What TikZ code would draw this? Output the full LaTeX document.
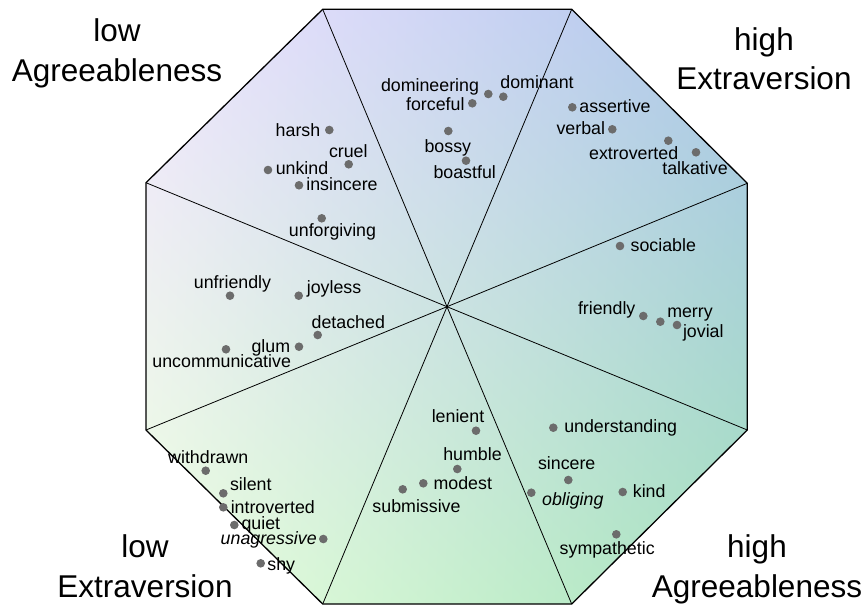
\documentclass[tikz,border=0pt]{standalone}
\usepackage{fontspec}
\setmainfont{Liberation Sans}

% Bilinear colour field over the octagon: the inner 25bp..75bp square
% of the shading is stretched over the path's bounding box.
\pgfdeclarefunctionalshading{octfill}{\pgfpointorigin}{\pgfpoint{100bp}{100bp}}{}{
  25 sub 50 div exch 25 sub 50 div exch
  2 copy mul
  2 index -0.274 mul 2 index 0.016 mul add 1 index 0.008 mul add 0.925 add
  3 index -0.114 mul 3 index -0.106 mul add 2 index -0.004 mul add 1.0 add
  4 index -0.133 mul 4 index 0.122 mul add 3 index 0.051 mul add 0.878 add
  6 3 roll pop pop pop
}

\definecolor{dotgray}{RGB}{108,108,108}

\tikzset{
  dotmark/.style={circle, fill=dotgray, inner sep=0pt, minimum size=8.6pt},
  word/.style={inner sep=0pt, text height=13pt, text depth=0pt,
               font=\fontsize{17.8}{20}\selectfont},
  corner/.style={inner sep=0pt, anchor=base, font=\fontsize{31.5}{38}\selectfont},
  rim/.style={line width=1.3pt, line join=miter},
  spoke/.style={line width=0.8pt}
}

\begin{document}
\begin{tikzpicture}[x=1pt, y=-1pt]
\useasboundingbox (0,0) rectangle (864,607);

% octagon corners and centre
\coordinate (A) at (322.7,9.3);
\coordinate (B) at (571.7,9.3);
\coordinate (C) at (747.3,183.3);
\coordinate (D) at (747.3,430);
\coordinate (E) at (571.7,604);
\coordinate (F) at (322.7,604);
\coordinate (G) at (146,430);
\coordinate (H) at (146,182.7);
\coordinate (O) at (447,306.7);

% fill
\shade[shading=octfill] (A) -- (B) -- (C) -- (D) -- (E) -- (F) -- (G) -- (H) -- cycle;

% spokes
\foreach \v in {A,B,C,D,E,F,G,H}
  \draw[spoke] (O) -- (\v);

% outline
\draw[rim] (A) -- (B) -- (C) -- (D) -- (E) -- (F) -- (G) -- (H) -- cycle;

% corner labels
\node[corner] (lowA1) at (117,42) {low};
\node[corner] (lowA2) at (117,82) {Agreeableness};
\node[corner] (hiE1) at (764,50.5) {high};
\node[corner] (hiE2) at (764,90) {Extraversion};
\node[corner] (lowE1) at (145,557) {low};
\node[corner] (lowE2) at (145,597) {Extraversion};
\node[corner] (hiA1) at (757,557) {high};
\node[corner] (hiA2) at (757,597) {Agreeableness};

% upper-left sector
\node[dotmark] (dharsh) at (329.3,130) {};
\node[word] (tharsh) at (298,129.7) {harsh};
\node[dotmark] (dcruel) at (348.7,164.3) {};
\node[word] (tcruel) at (348.3,150.8) {cruel};
\node[dotmark] (dunkind) at (268,170) {};
\node[word] (tunkind) at (302,168.3) {unkind};
\node[dotmark] (dinsincere) at (299,185.3) {};
\node[word] (tinsincere) at (342,183.8) {insincere};
\node[dotmark] (dunforgiving) at (321.7,218.3) {};
\node[word] (tunforgiving) at (332.5,230) {unforgiving};

% left upper sector
\node[dotmark] (dunfriendly) at (230,295.7) {};
\node[word] (tunfriendly) at (232.5,281.7) {unfriendly};
\node[dotmark] (djoyless) at (298.7,295.7) {};
\node[word] (tjoyless) at (334,286.8) {joyless};

% left lower sector
\node[dotmark] (ddetached) at (317.7,335) {};
\node[word] (tdetached) at (348.3,321.7) {detached};
\node[dotmark] (dglum) at (299,346.7) {};
\node[word] (tglum) at (270.8,345.5) {glum};
\node[dotmark] (duncomm) at (226,349.3) {};
\node[word] (tuncomm) at (221.7,361.3) {uncommunicative};

% lower-left sector
\node[dotmark] (dwithdrawn) at (205.7,470.7) {};
\node[word] (twithdrawn) at (208.3,456.8) {withdrawn};
\node[dotmark] (dsilent) at (223.3,493.3) {};
\node[word] (tsilent) at (250.8,484.2) {silent};
\node[dotmark] (dintro) at (223.3,507.3) {};
\node[word] (tintro) at (272.8,507) {introverted};
\node[dotmark] (dquiet) at (234.3,525) {};
\node[word] (tquiet) at (260.8,522.5) {quiet};
\node[dotmark] (dunagr) at (323.3,539) {};
\node[word] (tunagr) at (268.7,538.3) {\itshape unagressive};
\node[dotmark] (dshy) at (260.7,563.3) {};
\node[word] (tshy) at (281.2,563.5) {shy};

% lower sector
\node[dotmark] (dlenient) at (476,430.7) {};
\node[word] (tlenient) at (458,416.3) {lenient};
\node[dotmark] (dhumble) at (457.3,469) {};
\node[word] (thumble) at (472.5,453.8) {humble};
\node[dotmark] (dmodest) at (423.3,483.3) {};
\node[word] (tmodest) at (462.8,483) {modest};
\node[dotmark] (dsubm) at (402.7,489.3) {};
\node[word] (tsubm) at (416.5,505.8) {submissive};

% lower-right sector
\node[dotmark] (dunderst) at (553.3,427.7) {};
\node[word] (tunderst) at (620.7,426.3) {understanding};
\node[dotmark] (dsincere) at (568.3,480) {};
\node[word] (tsincere) at (566.7,462.5) {sincere};
\node[dotmark] (dobliging) at (531.3,492.7) {};
\node[word] (tobliging) at (572.8,498.8) {\itshape obliging};
\node[dotmark] (dkind) at (622.7,492) {};
\node[word] (tkind) at (649.2,491.2) {kind};
\node[dotmark] (dsymp) at (616.3,534.3) {};
\node[word] (tsymp) at (607.2,548.3) {sympathetic};

% right lower sector
\node[dotmark] (dfriendly) at (643.3,316) {};
\node[word] (tfriendly) at (606.7,308.3) {friendly};
\node[dotmark] (dmerry) at (660.3,321.7) {};
\node[word] (tmerry) at (690,311) {merry};
\node[dotmark] (djovial) at (677,325) {};
\node[word] (tjovial) at (703.3,331.2) {jovial};

% right upper sector
\node[dotmark] (dsociable) at (620,246) {};
\node[word] (tsociable) at (663.3,245) {sociable};

% upper-right sector
\node[dotmark] (dassertive) at (572.3,107.3) {};
\node[word] (tassertive) at (615,106.3) {assertive};
\node[dotmark] (dverbal) at (612.3,129.3) {};
\node[word] (tverbal) at (580.8,128.3) {verbal};
\node[dotmark] (dextro) at (668.3,140.7) {};
\node[word] (textro) at (633.7,153.3) {extroverted};
\node[dotmark] (dtalk) at (696,152.3) {};
\node[word] (ttalk) at (695,168.2) {talkative};

% upper sector
\node[dotmark] (ddomineer) at (488.3,94) {};
\node[word] (tdomineer) at (430,85.3) {domineering};
\node[dotmark] (ddominant) at (503.3,96.7) {};
\node[word] (tdominant) at (537,81.7) {dominant};
\node[dotmark] (dforceful) at (472.3,103.3) {};
\node[word] (tforceful) at (435.3,104) {forceful};
\node[dotmark] (dbossy) at (448.3,131) {};
\node[word] (tbossy) at (447.8,146) {bossy};
\node[dotmark] (dboastful) at (466,160.7) {};
\node[word] (tboastful) at (464.7,171.7) {boastful};
\end{tikzpicture}
\end{document}
